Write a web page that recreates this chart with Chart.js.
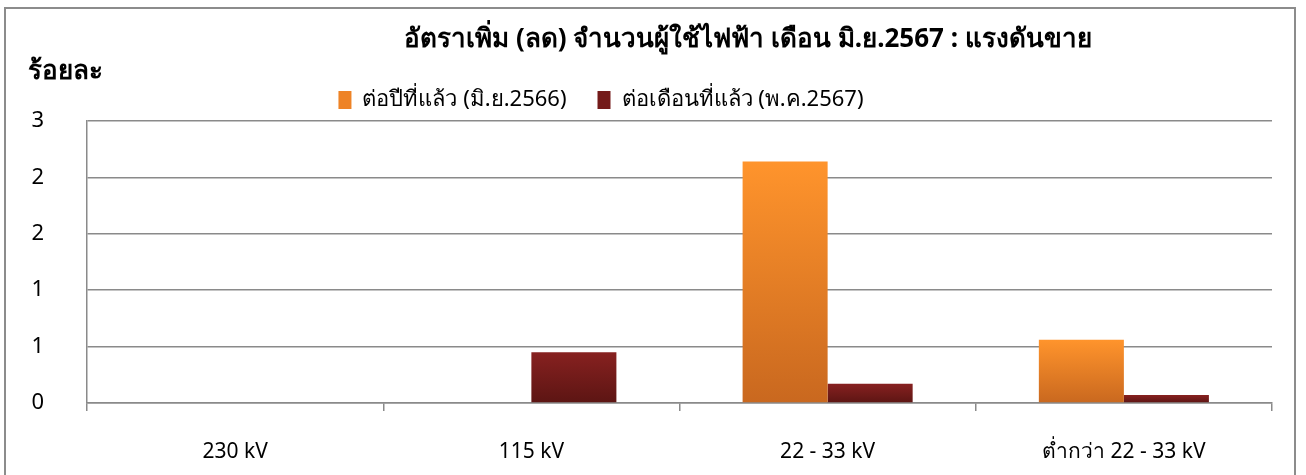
<!DOCTYPE html>
<html>
<head>
<meta charset="utf-8">
<style>
  body { margin: 0; background: #fff; }
  #wrap { position: relative; width: 1306px; height: 475px; overflow: hidden; }
  #frame { position: absolute; left: 4px; top: 7px; width: 1292px; height: 480px; border: 2px solid #8c8c8c; box-sizing: border-box; }
  canvas { position: absolute; left: 0; top: 0; }
</style>
</head>
<body>
<div id="wrap">
  <div id="frame"></div>
  <canvas id="rateChart" width="1306" height="475"></canvas>
</div>
<script src="https://cdn.jsdelivr.net/npm/chart.js"></script>
<script>
// ข้อมูลอ่านจากภาพ (ร้อยละ)
let categories = ['230 kV', '115 kV', '22 - 33 kV', 'ต่ำกว่า 22 - 33 kV'];
let yearOnYear = [0, 0, 2.14, 0.56];      // ต่อปีที่แล้ว (มิ.ย.2566)
let monthOnMonth = [0, 0.45, 0.17, 0.07]; // ต่อเดือนที่แล้ว (พ.ค.2567)
let yTickLabels = ['0', '1', '1', '2', '2', '3'];

let thaiFont = "'Noto Sans', 'DejaVu Sans', sans-serif";
Chart.defaults.font.family = thaiFont;
Chart.defaults.color = '#000';

// ไล่สีในแต่ละแท่ง บนลงล่าง
function barGradient(topColor, bottomColor, flat) {
    return function (c) {
        let chart = c.chart;
        if (!chart.chartArea || c.type !== 'data') return flat;
        let y = chart.scales.y;
        let top = y.getPixelForValue(c.parsed.y);
        let base = y.getPixelForValue(0);
        if (Math.abs(base - top) < 1) return flat;
        let g = chart.ctx.createLinearGradient(0, top, 0, base);
        g.addColorStop(0, topColor);
        g.addColorStop(1, bottomColor);
        return g;
    };
}

// ขยับหัวเรื่องและคำอธิบายให้ตรงกับต้นฉบับ
let shiftBlocks = {
    id: 'shiftBlocks',
    afterLayout(chart) {
        chart.titleBlock.left += 98;
        chart.titleBlock.right += 98;
        chart.legend.left -= 49;
        chart.legend.right -= 49;
    }
};

let gridColor = '#8a8a8a';
let ctx = document.getElementById('rateChart').getContext('2d');
let chart = new Chart(ctx, {
    type: 'bar',
    data: {
        labels: categories,
        datasets: [{
            label: 'ต่อปีที่แล้ว (มิ.ย.2566)',
            data: yearOnYear,
            backgroundColor: barGradient('#ff942c', '#c9681f', '#ee8326'),
            borderWidth: 0
        }, {
            label: 'ต่อเดือนที่แล้ว (พ.ค.2567)',
            data: monthOnMonth,
            backgroundColor: barGradient('#872120', '#5c1513', '#741b1a'),
            borderWidth: 0
        }]
    },
    plugins: [shiftBlocks],
    options: {
        animation: false,
        responsive: false,
        layout: { padding: { left: 28, right: 34, top: 10, bottom: 0 } },
        datasets: { bar: { categoryPercentage: 0.574, barPercentage: 1.0 } },
        plugins: {
            title: {
                display: true,
                text: 'อัตราเพิ่ม (ลด) จำนวนผู้ใช้ไฟฟ้า เดือน มิ.ย.2567 : แรงดันขาย',
                font: { size: 26, weight: 'bold' },
                padding: { top: 14.4, bottom: 0.8 }
            },
            subtitle: {
                display: true,
                text: 'ร้อยละ',
                align: 'start',
                font: { size: 26, weight: 'bold' },
                padding: { top: 0, bottom: -29.6 }
            },
            legend: {
                position: 'top',
                labels: {
                    boxWidth: 13,
                    boxHeight: 18,
                    padding: 31,
                    font: { size: 22 }
                }
            },
            tooltip: { enabled: false }
        },
        scales: {
            x: {
                afterFit(scale) { scale.height = 72; },
                grid: { display: true, drawOnChartArea: false, color: gridColor, lineWidth: 1.5, tickLength: 8 },
                border: { display: true, color: gridColor, width: 1.5 },
                ticks: { font: { size: 21 }, padding: 28 }
            },
            y: {
                min: 0,
                max: 2.5,
                afterFit(scale) { scale.width = 59; },
                grid: { color: gridColor, lineWidth: 1.5, drawTicks: false },
                border: { display: true, color: gridColor, width: 1.5 },
                ticks: {
                    stepSize: 0.5,
                    padding: 43,
                    font: { size: 22 },
                    callback: (v, i) => yTickLabels[i]
                }
            }
        }
    }
});
</script>
</body>
</html>
